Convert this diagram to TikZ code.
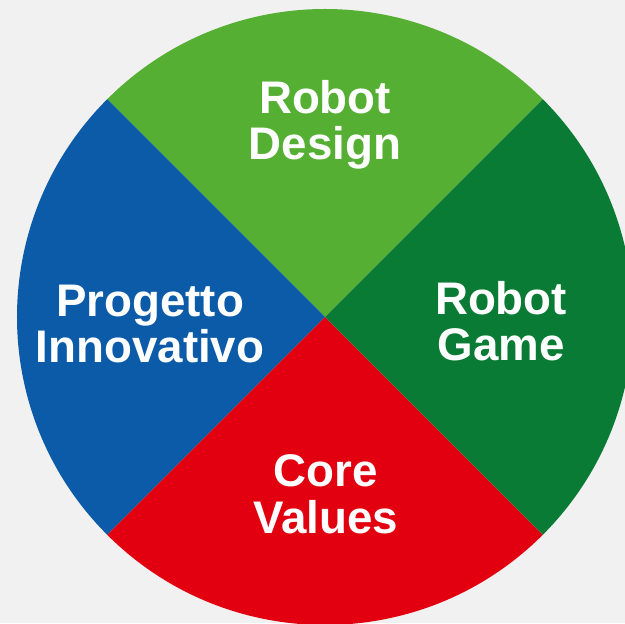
\documentclass[tikz,border=0pt]{standalone}
\usepackage{fontspec}
\setmainfont{Liberation Sans}
\usetikzlibrary{positioning}
\definecolor{paper}{RGB}{241,241,241}
\definecolor{designgreen}{RGB}{84,175,50}
\definecolor{gamegreen}{RGB}{9,123,52}
\definecolor{innovblue}{RGB}{12,91,168}
\definecolor{valuesred}{RGB}{226,0,16}

\begin{document}
\begin{tikzpicture}[x=0.03cm, y=0.03cm,
sector/.style={draw=none},
label/.style={text=white, font=\bfseries\fontsize{39}{39.4}\selectfont, align=center, inner sep=0pt, anchor=base},
]

%Page
\fill[paper] (-325,-306) rectangle (300,317);
\useasboundingbox (-325,-306) rectangle (300,317);
\clip (-325,-306) rectangle (300,317);
\coordinate (o) at (0,0);

%Sectors
\fill[sector, designgreen] (o) -- (45:308) arc (45:135:308) -- cycle;
\fill[sector, innovblue] (o) -- (135:308) arc (135:225:308) -- cycle;
\fill[sector, valuesred] (o) -- (225:308) arc (225:315:308) -- cycle;
\fill[sector, gamegreen] (o) -- (315:308) arc (315:405:308) -- cycle;

%Labels (anchored on the second baseline)
\node[label] (design) at (0,157) {Robot\\Design};
\node[label] (innov) at (-175,-46) {Progetto\\Innovativo};
\node[label] (game) at (176,-44) {Robot\\Game};
\node[label] (values) at (1,-216) {Core\\Values};
\end{tikzpicture}
\end{document}
